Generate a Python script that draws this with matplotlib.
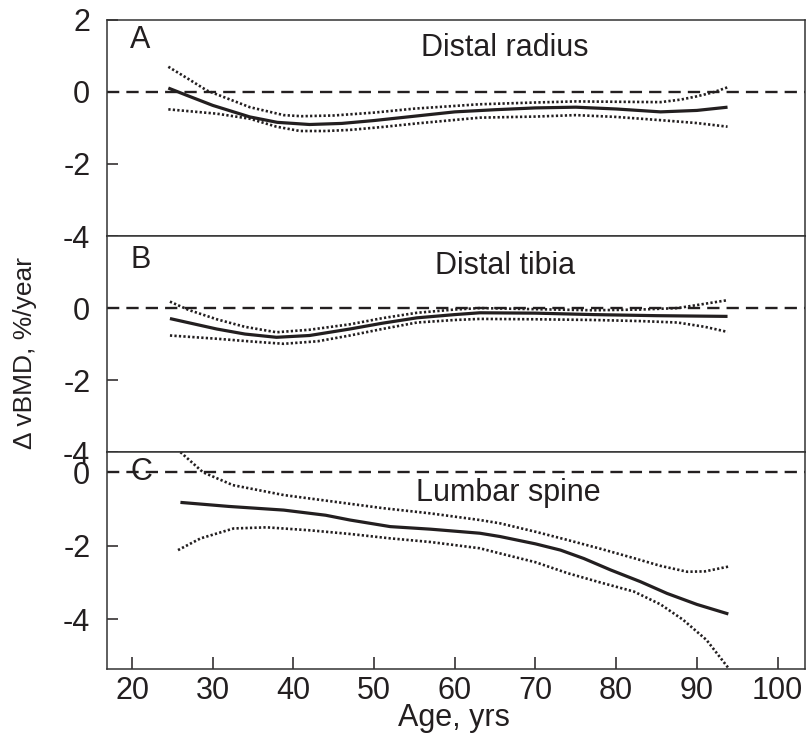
import numpy as np
import matplotlib
matplotlib.use("Agg")
import matplotlib.pyplot as plt

plt.rcParams['font.family'] = ['Liberation Sans', 'DejaVu Sans']

# Panel A - distal radius
a_x = [24.5, 27, 30, 34.6, 38, 42, 46, 50, 55, 60, 65, 70, 75, 80, 85.5, 90, 93.8]
a_y = [0.1, -0.12, -0.38, -0.70, -0.85, -0.91, -0.88, -0.8, -0.68, -0.56, -0.5, -0.45, -0.43, -0.48, -0.56, -0.52, -0.43]
a_up_x = [24.5, 27, 29.3, 34.6, 38.8, 41, 45, 50, 55, 63, 70, 75, 80, 85.5, 88, 90, 92, 93.8]
a_up_y = [0.69, 0.35, 0.03, -0.43, -0.65, -0.68, -0.66, -0.58, -0.47, -0.35, -0.3, -0.27, -0.28, -0.29, -0.22, -0.13, -0.02, 0.12]
a_lo_x = [24.5, 30.5, 34.6, 37.9, 40.8, 44, 47, 51, 55.3, 63.1, 70, 75, 80, 85.5, 90, 93.8]
a_lo_y = [-0.49, -0.61, -0.75, -0.97, -1.09, -1.09, -1.06, -0.98, -0.88, -0.72, -0.69, -0.65, -0.7, -0.79, -0.87, -0.97]

# Panel B - distal tibia
b_x = [24.7, 30.5, 34, 37.9, 42, 47, 51, 55.3, 60, 63.1, 70, 77.2, 85, 93.8]
b_y = [-0.29, -0.58, -0.72, -0.81, -0.76, -0.58, -0.42, -0.27, -0.18, -0.13, -0.14, -0.18, -0.21, -0.23]
b_up_x = [24.7, 27, 30.5, 34, 37.9, 42, 47, 51, 55.3, 60, 63.1, 70, 77.2, 83, 87.6, 91, 93.8]
b_up_y = [0.18, -0.05, -0.31, -0.52, -0.67, -0.6, -0.45, -0.28, -0.13, -0.04, 0.0, -0.03, -0.06, -0.04, 0.0, 0.12, 0.22]
b_lo_x = [24.7, 30.5, 35, 38.8, 43, 47, 51, 55.3, 60, 63.1, 70, 77.2, 83, 87.6, 91, 93.8]
b_lo_y = [-0.76, -0.85, -0.93, -0.99, -0.92, -0.76, -0.58, -0.40, -0.33, -0.30, -0.31, -0.33, -0.36, -0.40, -0.52, -0.66]

# Panel C - lumbar spine
c_x = [26, 32, 38.8, 44, 47, 52, 57, 63.1, 65.6, 70, 73.1, 76, 79.3, 83, 86.3, 90, 93.9]
c_y = [-0.82, -0.93, -1.03, -1.17, -1.30, -1.48, -1.55, -1.66, -1.75, -1.95, -2.12, -2.35, -2.66, -2.98, -3.30, -3.6, -3.86]
c_up_x = [26, 28.8, 32.5, 38.8, 45, 51.2, 57, 63.1, 65.6, 70, 73.9, 78, 82.2, 85.5, 88.8, 91, 93.9]
c_up_y = [0.55, 0.0, -0.35, -0.62, -0.8, -0.98, -1.12, -1.30, -1.39, -1.62, -1.84, -2.08, -2.34, -2.55, -2.71, -2.70, -2.57]
c_lo_x = [25.7, 28.5, 32.6, 36.7, 42, 47, 52, 57, 63.1, 65.6, 70, 74, 78, 82.2, 85.5, 88.3, 91.2, 94]
c_lo_y = [-2.12, -1.8, -1.53, -1.50, -1.58, -1.68, -1.80, -1.9, -2.07, -2.21, -2.45, -2.75, -3.0, -3.25, -3.6, -4.02, -4.57, -5.36]

x_ticks = [20, 30, 40, 50, 60, 70, 80, 90, 100]

ink = '#231f20'

fig = plt.figure(figsize=(8.06, 7.35), dpi=100)

W, H = 806, 735
left, right = 107 / W, 805 / W
tops = [19.5, 236, 452.3]
bottoms = [236, 452.3, 669]

panels = [
    ("A", "Distal radius", (a_x, a_y), (a_up_x, a_up_y), (a_lo_x, a_lo_y), (-4, 2), [2, 0, -2, -4]),
    ("B", "Distal tibia", (b_x, b_y), (b_up_x, b_up_y), (b_lo_x, b_lo_y), (-4, 2), [0, -2, -4]),
    ("C", "Lumbar spine", (c_x, c_y), (c_up_x, c_up_y), (c_lo_x, c_lo_y), (-5.36, 0.545), [0, -2, -4]),
]
letter_y = [0.905, 0.89, 0.91]
title_pos = [(0.57, 0.87), (0.57, 0.86), (0.575, 0.81)]

for i, (letter, title, mid, up, lo, ylim, yt) in enumerate(panels):
    ax = fig.add_axes([left, 1 - bottoms[i] / H, right - left, (bottoms[i] - tops[i]) / H])
    ax.axhline(0, color=ink, lw=1.7, ls=(0, (5.2, 3.0)))
    ax.plot(up[0], up[1], color=ink, lw=1.9, ls=(0, (0.85, 0.85)))
    ax.plot(lo[0], lo[1], color=ink, lw=1.9, ls=(0, (0.85, 0.85)))
    ax.plot(mid[0], mid[1], color=ink, lw=2.3, solid_capstyle='butt')
    ax.set_xlim(16.9, 103.4)
    ax.set_ylim(*ylim)
    ax.set_yticks(yt)
    ax.set_yticklabels([str(v) for v in yt])
    ax.tick_params(axis='y', direction='in', length=8, width=1.1, color=ink,
                   labelsize=22, labelcolor=ink, pad=12)
    if i < 2:
        ax.set_xticks([])
    else:
        ax.set_xticks(x_ticks)
        ax.tick_params(axis='x', direction='in', length=9, width=1.1, color=ink,
                       labelsize=22, labelcolor=ink, pad=5)
    for s in ax.spines.values():
        s.set_color('#333333')
        s.set_linewidth(1.1)
    ax.text(0.033, letter_y[i], letter, transform=ax.transAxes,
            fontsize=22, color=ink, ha='left', va='center')
    ax.text(title_pos[i][0], title_pos[i][1], title, transform=ax.transAxes,
            fontsize=22, color=ink, ha='center', va='center')

fig.text(454 / W, 1 - 718 / H, "Age, yrs", fontsize=22, color=ink, ha='center', va='center')
fig.text(25 / W, 1 - 353 / H, "\u0394 vBMD, %/year", fontsize=19, color=ink,
         ha='center', va='center', rotation=90)

fig.savefig("out.png", dpi=100)
